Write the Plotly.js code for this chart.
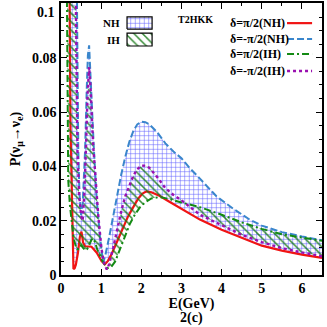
<!DOCTYPE html>
<html lang="en">
<head>
<meta charset="UTF-8">
<title>T2HKK appearance probability</title>
<script src="https://cdn.plot.ly/plotly-3.0.1.min.js"></script>
<style>
  body { margin: 0; background: white; }
  #chart { width: 327px; height: 327px; }
</style>
</head>
<body>
<div id="chart"></div>
<script>
// values (E in GeV, P = appearance probability)
const eRedNH = [0.19, 0.2, 0.215, 0.225, 0.235, 0.25, 0.27, 0.29, 0.31, 0.34, 0.37, 0.42, 0.47, 0.51, 0.55, 0.6, 0.68, 0.76, 0.89, 1.01, 1.09, 1.17, 1.27, 1.38, 1.5, 1.67, 1.8, 1.92, 2.03, 2.13, 2.25, 2.45, 2.7, 3.0, 3.46, 4.0, 4.5, 5.0, 5.5, 6.0, 6.5];
const pRedNH = [0.16, 0.13, 0.095, 0.07, 0.055, 0.045, 0.025, 0.01, 0.0022, 0.0025, 0.0038, 0.008, 0.014, 0.016, 0.012, 0.0106, 0.0106, 0.0104, 0.0082, 0.0051, 0.0039, 0.0052, 0.008, 0.0118, 0.016, 0.0216, 0.025, 0.0281, 0.03, 0.0308, 0.0305, 0.0292, 0.027, 0.0245, 0.0204, 0.0167, 0.0137, 0.0108, 0.009, 0.0075, 0.0063];

const eBlueNH = [0.38, 0.41, 0.43, 0.46, 0.5, 0.54, 0.57, 0.6, 0.64, 0.67, 0.7, 0.73, 0.77, 0.82, 0.89, 0.97, 1.05, 1.1, 1.2, 1.3, 1.4, 1.5, 1.6, 1.7, 1.8, 1.9, 2.0, 2.1, 2.2, 2.4, 2.6, 2.8, 3.0, 3.2, 3.46, 3.87, 4.3, 4.7, 5.0, 5.5, 6.0, 6.5];
const pBlueNH = [0.13, 0.08, 0.046, 0.03, 0.022, 0.026, 0.036, 0.046, 0.068, 0.081, 0.0846, 0.075, 0.06, 0.046, 0.0277, 0.0142, 0.0045, 0.007, 0.014, 0.022, 0.03, 0.037, 0.0435, 0.049, 0.053, 0.0555, 0.0565, 0.0563, 0.0555, 0.0525, 0.0485, 0.0455, 0.043, 0.0395, 0.0355, 0.029, 0.0243, 0.0204, 0.0182, 0.0158, 0.0142, 0.0128];

const eGreenIH = [0.13, 0.145, 0.155, 0.16, 0.18, 0.22, 0.27, 0.31, 0.36, 0.4, 0.45, 0.5, 0.55, 0.6, 0.65, 0.7, 0.76, 0.8, 0.85, 0.9, 0.95, 1.0, 1.05, 1.1, 1.17, 1.25, 1.35, 1.47, 1.6, 1.72, 1.85, 1.97, 2.1, 2.25, 2.45, 2.7, 3.0, 3.46, 4.0, 4.5, 5.0, 5.5, 6.0, 6.5];
const pGreenIH = [0.14, 0.11, 0.08, 0.046, 0.035, 0.026, 0.018, 0.014, 0.011, 0.0095, 0.0095, 0.011, 0.01, 0.0092, 0.0095, 0.011, 0.013, 0.0135, 0.012, 0.0095, 0.0075, 0.006, 0.0048, 0.0035, 0.0026, 0.003, 0.005, 0.0094, 0.0145, 0.019, 0.0225, 0.025, 0.0268, 0.0282, 0.0287, 0.028, 0.0267, 0.025, 0.0222, 0.0194, 0.017, 0.015, 0.0138, 0.0126];

const ePurpleIH = [0.35, 0.38, 0.41, 0.45, 0.5, 0.54, 0.58, 0.62, 0.66, 0.7, 0.74, 0.8, 0.85, 0.93, 1.01, 1.08, 1.14, 1.2, 1.3, 1.4, 1.5, 1.6, 1.7, 1.8, 1.9, 2.0, 2.1, 2.2, 2.4, 2.6, 2.8, 3.0, 3.46, 4.0, 4.5, 5.0, 5.5, 6.0, 6.5];
const pPurpleIH = [0.13, 0.08, 0.046, 0.03, 0.022, 0.02, 0.03, 0.046, 0.066, 0.0766, 0.068, 0.048, 0.037, 0.0216, 0.0094, 0.004, 0.002, 0.004, 0.01, 0.017, 0.0235, 0.029, 0.033, 0.0365, 0.039, 0.0402, 0.0403, 0.0395, 0.036, 0.032, 0.0295, 0.0275, 0.0222, 0.0182, 0.0148, 0.0121, 0.0099, 0.0083, 0.0069];

const curveNames = ['δ=π/2(NH)', 'δ=-π/2(NH)', 'δ=π/2(IH)', 'δ=-π/2(IH)'];
const bandNames = ['NH', 'IH'];

const xTickVals = [0, 1, 2, 3, 4, 5, 6];
const xTickText = ['0', '1', '2', '3', '4', '5', '6'];
const yTickVals = [0, 0.02, 0.04, 0.06, 0.08, 0.1];
const yTickText = ['0', '0.02', '0.04', '0.06', '0.08', '0.1'];

const RED = '#f01414', BLUE = '#3a86cc', GREEN = '#138a13', PURPLE = '#9a10b0';
const FONT = 'Liberation Serif';

const nhPattern = { shape: '+', fgcolor: 'rgba(40,40,255,0.75)', bgcolor: 'rgba(255,255,255,0)', size: 4.5, solidity: 0.22 };
const ihPattern = { shape: '\\', fgcolor: 'rgba(20,120,20,0.85)', bgcolor: 'rgba(255,255,255,0)', size: 6, solidity: 0.25 };

const styleRed = { color: RED, width: 2.2 };
const styleBlue = { color: BLUE, width: 2, dash: '7px,3px' };
const styleGreen = { color: GREEN, width: 2, dash: '7px,3px,2px,3px' };
const stylePurple = { color: PURPLE, width: 2.4, dash: 'dot' };

const traces = [
  // NH band: red -> blue
  { x: eRedNH, y: pRedNH, mode: 'lines', line: styleRed, showlegend: false },
  { x: eBlueNH, y: pBlueNH, mode: 'lines', fill: 'tonexty', fillcolor: 'rgba(0,0,0,0)',
    fillpattern: nhPattern, line: styleBlue, showlegend: false },
  // IH band: green -> purple
  { x: eGreenIH, y: pGreenIH, mode: 'lines', line: styleGreen, showlegend: false },
  { x: ePurpleIH, y: pPurpleIH, mode: 'lines', fill: 'tonexty', fillcolor: 'rgba(0,0,0,0)',
    fillpattern: ihPattern, line: stylePurple, showlegend: false }
];

// patterned boxes for the NH / IH key, on a hidden 0..1 overlay
const boxes = [[0.253, 0.349, 0.904, 0.949], [0.253, 0.349, 0.842, 0.889]];
[nhPattern, ihPattern].forEach((pat, i) => {
  const b = boxes[i];
  traces.push({
    x: [b[0], b[1], b[1], b[0], b[0]], y: [b[2], b[2], b[3], b[3], b[2]],
    xaxis: 'x2', yaxis: 'y2', mode: 'lines', fill: 'toself', fillcolor: 'rgba(0,0,0,0)',
    fillpattern: pat, line: { color: 'black', width: 1.2 }, showlegend: false, hoverinfo: 'skip'
  });
});

const annotations = [];
const shapes = [];
const rowsY = [0.926, 0.868, 0.8125, 0.75];
const lineStyles = [styleRed, styleBlue, styleGreen, stylePurple];
curveNames.forEach((name, i) => {
  annotations.push({ text: name, xref: 'paper', yref: 'paper', x: 0.64, y: rowsY[i],
    xanchor: 'left', yanchor: 'middle', showarrow: false, font: { size: 12 } });
  shapes.push({ type: 'line', xref: 'paper', yref: 'paper', x0: 0.866, x1: 0.962,
    y0: rowsY[i], y1: rowsY[i], line: lineStyles[i] });
});
bandNames.forEach((name, i) => {
  annotations.push({ text: name, xref: 'paper', yref: 'paper', x: 0.234, y: (boxes[i][2] + boxes[i][3]) / 2,
    xanchor: 'right', yanchor: 'middle', showarrow: false, font: { size: 11 } });
});
annotations.push({ text: 'T2HKK', xref: 'paper', yref: 'paper', x: 0.517, y: 0.941,
  xanchor: 'center', yanchor: 'middle', showarrow: false, font: { size: 10 } });
annotations.push({ text: '2(c)', xref: 'paper', yref: 'paper', x: 0.5, y: -0.158,
  xanchor: 'center', yanchor: 'middle', showarrow: false, font: { size: 14 } });

// top y label sits a little below its tick so it stays inside the page
const last = yTickText.length - 1;
annotations.push({ text: yTickText[last], xref: 'paper', yref: 'y', x: 0, y: yTickVals[last],
  xanchor: 'right', yanchor: 'top', xshift: -4, yshift: 1, showarrow: false, font: { size: 14 } });
const yTickShown = yTickText.map((t, i) => (i === last ? '' : t));

const axisCommon = {
  showline: true, linecolor: 'black', linewidth: 1.6, mirror: 'ticks',
  ticks: 'inside', ticklen: 6, tickwidth: 1, tickcolor: 'black',
  showgrid: false, zeroline: false, tickfont: { size: 14 }
};

const layout = {
  width: 327, height: 327,
  margin: { l: 61, r: 5, t: 3, b: 52 },
  paper_bgcolor: 'white', plot_bgcolor: 'white',
  font: { family: FONT, color: 'black', weight: 'bold' },
  showlegend: false,
  xaxis: Object.assign({}, axisCommon, {
    range: [0, 6.5], tickvals: xTickVals, ticktext: xTickText,
    minor: { dtick: 0.5, ticks: 'inside', ticklen: 3, tickcolor: 'black' },
    title: { text: 'E(GeV)', font: { size: 14 }, standoff: 2 }
  }),
  yaxis: Object.assign({}, axisCommon, {
    range: [0, 0.1002], tickvals: yTickVals, ticktext: yTickShown,
    minor: { dtick: 0.005, ticks: 'inside', ticklen: 3, tickcolor: 'black' },
    title: { text: 'P(ν<sub>μ</sub>→ν<sub>e</sub>)', font: { size: 14 }, standoff: 8 }
  }),
  xaxis2: { overlaying: 'x', anchor: 'y2', range: [0, 1], visible: false },
  yaxis2: { overlaying: 'y', anchor: 'x2', range: [0, 1], visible: false },
  annotations: annotations,
  shapes: shapes
};

Plotly.newPlot('chart', traces, layout, { displayModeBar: false, staticPlot: true });
</script>
</body>
</html>
